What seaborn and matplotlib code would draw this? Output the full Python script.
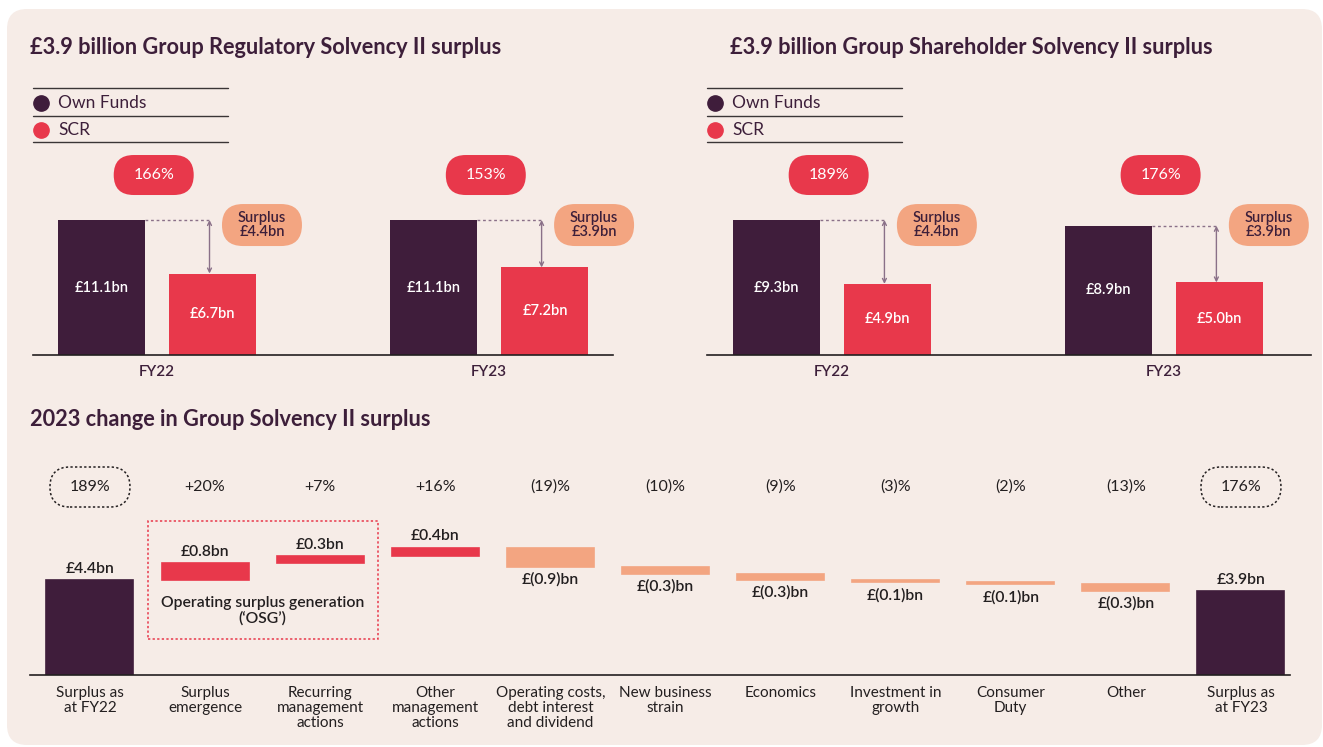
import numpy as np
import pandas as pd
import matplotlib
matplotlib.use("Agg")
import matplotlib.pyplot as plt
import matplotlib.transforms as mtransforms
from matplotlib.patches import FancyBboxPatch, Rectangle
from matplotlib.lines import Line2D
import seaborn as sns

# ---- data ----
periods = ["FY22", "FY23"]
series = ["Own Funds", "SCR"]

reg_own_funds = [11.1, 11.1]
reg_scr = [6.7, 7.2]
reg_ratio = ["166%", "153%"]
reg_surplus = [4.4, 3.9]

sh_own_funds = [9.3, 8.9]
sh_scr = [4.9, 5.0]
sh_ratio = ["189%", "176%"]
sh_surplus = [4.4, 3.9]

steps = ["Surplus as\nat FY22", "Surplus\nemergence", "Recurring\nmanagement\nactions",
         "Other\nmanagement\nactions", "Operating costs,\ndebt interest\nand dividend",
         "New business\nstrain", "Economics", "Investment in\ngrowth", "Consumer\nDuty",
         "Other", "Surplus as\nat FY23"]
step_values = [4.4, 0.8, 0.3, 0.4, -0.9, -0.3, -0.3, -0.1, -0.1, -0.3, 3.9]
step_pct = ["189%", "+20%", "+7%", "+16%", "(19)%", "(10)%", "(9)%", "(3)%", "(2)%", "(13)%", "176%"]
total_steps = [0, 10]
osg_steps = [1, 2]

# ---- style ----
PANEL = "#f6ece7"
PLUM = "#3f1d3b"
RED = "#e8384b"
SALMON = "#f3a581"
TXT = "#3d1f3a"
BLACK = "#231f20"
ARROW = "#8a7088"

sns.set_style("white")
plt.rcParams["font.family"] = ["Lato", "DejaVu Sans"]

W, H, DPI = 1323, 747, 100
fig = plt.figure(figsize=(W / DPI, H / DPI), dpi=DPI, facecolor="white")

# rounded background panel
fig.patches.append(FancyBboxPatch((0.07, 0.02), 13.15, 7.36,
                                  boxstyle="round,pad=0,rounding_size=0.2",
                                  transform=fig.dpi_scale_trans, fc=PANEL, ec="none", zorder=-10))


def add_ax(left, top, right, bottom):
    ax = fig.add_axes([left / W, 1 - bottom / H, (right - left) / W, (bottom - top) / H])
    ax.set_facecolor("none")
    return ax


def pill(ax, x, y, w, h, fc, ec="none", ls="-", lw=1.0):
    base = mtransforms.blended_transform_factory(ax.transData, ax.transAxes)
    tr = fig.dpi_scale_trans + mtransforms.ScaledTranslation(x, y, base)
    p = FancyBboxPatch((-w / 2 / DPI, -h / 2 / DPI), w / DPI, h / DPI,
                       boxstyle=f"round,pad=0,rounding_size={h / 2 / DPI}",
                       transform=tr, fc=fc, ec=ec, ls=ls, lw=lw, clip_on=False, zorder=3)
    ax.add_artist(p)


def legend_block(x0):
    for yy in [88, 116, 142]:
        fig.add_artist(Line2D([x0 / W, (x0 + 195) / W], [1 - yy / H, 1 - yy / H],
                              color="#3a3536", lw=1.0))
    for yy, name, c in [(103, series[0], PLUM), (130, series[1], RED)]:
        fig.add_artist(Line2D([(x0 + 8) / W], [1 - yy / H], marker="o", ms=11,
                              color=c, ls="none"))
        fig.text((x0 + 25) / W, 1 - yy / H, name, fontsize=12.5, color=TXT, va="center")


def solvency_panel(ax, own, scr, ratios, surplus, xlim):
    df = pd.DataFrame({"period": periods * 2,
                       "series": [series[0]] * 2 + [series[1]] * 2,
                       "value": own + scr})
    sns.barplot(data=df, x="period", y="value", hue="series",
                palette={series[0]: PLUM, series[1]: RED}, saturation=1,
                width=0.672, gap=0.22, errorbar=None, legend=False,
                edgecolor="none", linewidth=0, ax=ax)
    for cont in ax.containers:
        ax.bar_label(cont, labels=[f"£{v:.1f}bn" for v in cont.datavalues],
                     label_type="center", color="white", fontsize=10.5, fontweight="semibold")
    blend = mtransforms.blended_transform_factory(ax.transData, ax.transAxes)
    for i in range(len(periods)):
        own_bar = ax.containers[0][i]
        scr_bar = ax.containers[1][i]
        own_right = own_bar.get_x() + own_bar.get_width()
        ax_x = scr_bar.get_x() + scr_bar.get_width() / 2 - 0.01
        ax.plot([own_right, ax_x], [own[i], own[i]], ls=(0, (2, 2)), color=ARROW, lw=1)
        ax.annotate("", xy=(ax_x, scr[i]), xytext=(ax_x, own[i]),
                    arrowprops=dict(arrowstyle="<->", color=ARROW, lw=1,
                                    shrinkA=0, shrinkB=0, mutation_scale=7))
        pill(ax, i - 0.01, 0.878, 80, 40, RED)
        ax.text(i - 0.01, 0.878, ratios[i], transform=blend, ha="center", va="center",
                color="white", fontsize=11.5, zorder=4)
        pill(ax, i + 0.316, 0.634, 80, 42, SALMON)
        ax.text(i + 0.316, 0.634, f"Surplus\n£{surplus[i]:.1f}bn", transform=blend,
                ha="center", va="center", color=TXT, fontsize=10.5, fontweight="semibold",
                linespacing=1.0, zorder=4)
    ax.set_ylim(0, max(own) * 205 / 135)
    ax.set_xlim(*xlim)
    ax.set_xlabel("")
    ax.set_ylabel("")
    ax.set_yticks([])
    ax.tick_params(axis="x", length=0, pad=7, labelsize=11, labelcolor=TXT)
    for lab in ax.get_xticklabels():
        lab.set_fontweight("semibold")
    sns.despine(ax=ax, left=True)
    ax.spines["bottom"].set_color(BLACK)
    ax.spines["bottom"].set_linewidth(1.2)


# ---- titles ----
TITLE_KW = dict(fontsize=15.7, fontweight="bold", color=TXT, va="center")
fig.text(30 / W, 1 - 47 / H, "£3.9 billion Group Regulatory Solvency II surplus", **TITLE_KW)
fig.text(730 / W, 1 - 47 / H, "£3.9 billion Group Shareholder Solvency II surplus", **TITLE_KW)
fig.text(30 / W, 1 - 420 / H, "2023 change in Group Solvency II surplus", **TITLE_KW)

legend_block(33)
legend_block(707)

ax1 = add_ax(33, 150, 613, 355)
solvency_panel(ax1, reg_own_funds, reg_scr, reg_ratio, reg_surplus, (-0.3735, 1.373))
ax2 = add_ax(707, 150, 1311, 355)
solvency_panel(ax2, sh_own_funds, sh_scr, sh_ratio, sh_surplus, (-0.3765, 1.443))

# ---- waterfall ----
bottoms, colors = [], []
running = 0.0
for i, v in enumerate(step_values):
    if i in total_steps:
        bottoms.append(0.0)
        colors.append(PLUM)
        running = v
    else:
        bottoms.append(running)
        colors.append(RED if v > 0 else SALMON)
        running += v

wf = pd.DataFrame({"step": steps, "value": step_values})
ax3 = add_ax(30, 440, 1290, 675)
sns.barplot(data=wf, x="step", y="value", order=steps, color=PLUM, saturation=1,
            width=0.756, errorbar=None, bottom=bottoms, ax=ax3)
for bar, c in zip(ax3.patches, colors):
    bar.set_facecolor(c)
    bar.set_edgecolor(c)
    bar.set_linewidth(1.2)

blend3 = mtransforms.blended_transform_factory(ax3.transData, ax3.transAxes)
for i, (v, b) in enumerate(zip(step_values, bottoms)):
    top = b + v
    if v >= 0:
        lab = f"£{v:.1f}bn"
        ax3.annotate(lab, (i, top), xytext=(0, 3), textcoords="offset points",
                     ha="center", va="bottom", fontsize=11.3, fontweight="semibold", color=BLACK)
    else:
        lab = f"£({abs(v):.1f})bn"
        ax3.annotate(lab, (i, top), xytext=(0, -4), textcoords="offset points",
                     ha="center", va="top", fontsize=11.3, fontweight="semibold", color=BLACK)
    ax3.text(i, 0.80, step_pct[i], transform=blend3, ha="center", va="center",
             fontsize=11.5, color=BLACK, zorder=4)
    if i in total_steps:
        pill(ax3, i, 0.80, 80, 40, "none", ec=BLACK, ls=(0, (1.5, 1.5)), lw=1.1)

# OSG dashed box
ax3.add_patch(Rectangle((osg_steps[0] - 0.5, 0.153), len(osg_steps), 0.502,
                        transform=blend3, fill=False, ec=RED, lw=1.1,
                        ls=(0, (1.5, 1.5)), clip_on=False))
ax3.text(np.mean(osg_steps), 0.272, "Operating surplus generation\n(\u2018OSG\u2019)",
         transform=blend3, ha="center", va="center", fontsize=11.3, fontweight="semibold",
         color=BLACK, linespacing=1.1)

ax3.set_ylim(0, step_values[0] * 235 / 95)
ax3.set_xlim(-0.521, 10.426)
ax3.set_xlabel("")
ax3.set_ylabel("")
ax3.set_yticks([])
ax3.tick_params(axis="x", length=0, pad=8, labelsize=11, labelcolor=BLACK)
for lab in ax3.get_xticklabels():
    lab.set_linespacing(1.1)
sns.despine(ax=ax3, left=True)
ax3.spines["bottom"].set_color(BLACK)
ax3.spines["bottom"].set_linewidth(1.2)

fig.savefig("out.png", dpi=DPI, facecolor="white")
